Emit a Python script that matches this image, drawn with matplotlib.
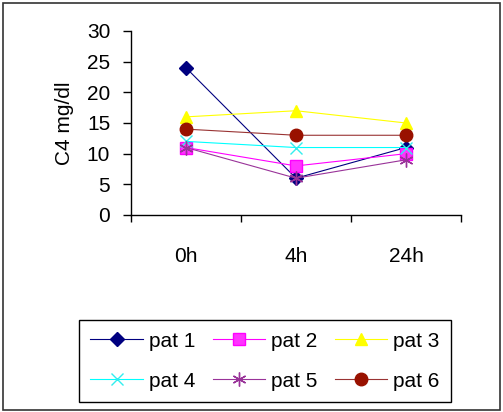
import matplotlib.pyplot as plt
from matplotlib.patches import Rectangle

plt.rcParams['font.family'] = ['Liberation Sans', 'DejaVu Sans']

times = ["0h", "4h", "24h"]
patients = ["pat 1", "pat 2", "pat 3", "pat 4", "pat 5", "pat 6"]
pat1 = [24, 6, 11]
pat2 = [11, 8, 10]
pat3 = [16, 17, 15]
pat4 = [12, 11, 11]
pat5 = [11, 6, 9]
pat6 = [14, 13, 13]
series = [pat1, pat2, pat3, pat4, pat5, pat6]

# excel-ish default styles for the six series
styles = [
    dict(color="#000080", marker="D", ms=7, mec="#000080", mfc="#000080"),
    dict(color="#FF00FF", marker="s", ms=8, mec="#FF00FF", mfc="#FF33FF"),
    dict(color="#FFFF00", marker="^", ms=9, mec="#FFFF00", mfc="#FFFF00"),
    dict(color="#00FFFF", marker="x", ms=8, mew=1.0, mec="#33EEEE"),
    dict(color="#993399", marker=(6, 2, 0), ms=10, mew=1.0, mec="#993399"),
    dict(color="#993333", marker="o", ms=9, mec="#991100", mfc="#991100"),
]

fig = plt.figure(figsize=(5.03, 4.12), dpi=100)
ax = fig.add_axes([131/503, (412-215)/412, (461-131)/503, (215-31)/412])

x = range(len(times))
lines = []
for name, vals, st in zip(patients, series, styles):
    lines += ax.plot(x, vals, lw=0.8, label=name, **st)

ax.set_xlim(-0.5, 2.5)
ax.set_ylim(0, 30)
ax.set_yticks(range(0, 31, 5))
ax.set_xticks([-0.5, 0.5, 1.5, 2.5])
ax.set_xticklabels([])
ax.set_xticks(list(x), minor=True)
ax.set_xticklabels(times, minor=True)
ax.tick_params(axis='x', which='minor', length=0, pad=23, labelsize=15)
ax.tick_params(axis='x', which='major', length=5, width=1, direction='out')
ax.tick_params(axis='y', length=6, width=1, direction='out', pad=9, labelsize=15)
for s in ["top", "right"]:
    ax.spines[s].set_visible(False)
ax.spines["left"].set_linewidth(1)
ax.spines["bottom"].set_linewidth(1)
ax.set_ylabel("C4 mg/dl", fontsize=15, labelpad=9)

# legend fills row by row: pat 1-3 on top, pat 4-6 below
order = [0, 3, 1, 4, 2, 5]
leg = fig.legend([lines[i] for i in order], [patients[i] for i in order],
                 loc="lower left", ncol=3, mode="expand",
                 bbox_to_anchor=(79/503, 10/412, 372/503, 86/412),
                 borderaxespad=0, fontsize=15, handlelength=2.5,
                 handletextpad=0.3, labelspacing=1.0, fancybox=False,
                 edgecolor="black", framealpha=1, borderpad=0.55)
leg.get_frame().set_linewidth(1)

fig.patches.append(Rectangle((3/503, 2/412), 497/503, 407/412, transform=fig.transFigure,
                             fill=False, edgecolor="#333333", lw=1.2))

fig.savefig("out.png", dpi=100)
